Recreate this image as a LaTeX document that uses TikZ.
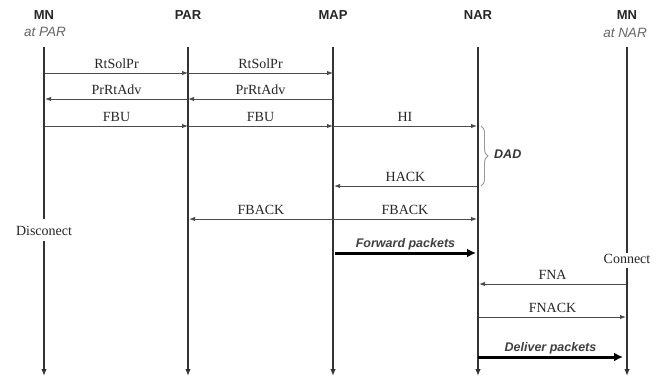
\documentclass[tikz,border=0pt]{standalone}
\usepackage{fontspec}
\setmainfont{Liberation Serif}
\setsansfont{Liberation Sans}
\usetikzlibrary{arrows.meta,decorations.pathreplacing}
\begin{document}
\begin{tikzpicture}[x=1pt,y=-1pt,
  head/.style={font=\sffamily\bfseries\fontsize{13}{14}\selectfont, text=black!85, inner sep=0pt},
  sub/.style={font=\sffamily\itshape\fontsize{13.5}{14}\selectfont, text=black!60, inner sep=0pt},
  life/.style={draw=black!80, line width=2pt},
  lifeend/.style={life, -{Latex[length=7pt,width=5.5pt]}},
  msg/.style={draw=black!70, line width=1pt, -{Latex[length=6pt,width=4.5pt]}},
  bulk/.style={draw=black, line width=3pt, -{Latex[length=9pt,width=9pt]}},
  lbl/.style={font=\fontsize{14}{15}\selectfont, text=black!85, anchor=base, yshift=5pt, inner sep=0pt},
  blbl/.style={font=\sffamily\bfseries\itshape\fontsize{12.5}{13}\selectfont, text=black!75, anchor=base, yshift=6pt, inner sep=0pt},
  state/.style={font=\fontsize{14}{15}\selectfont, text=black!85, inner sep=0pt}
]
\useasboundingbox[fill=white] (0,0) rectangle (661,376);

% headers
\node[head] (hmn) at (44,15) {MN};
\node[sub] (hmnat) at (45,32) {at PAR};
\node[head] (hpar) at (188,15) {PAR};
\node[head] (hmap) at (333,15) {MAP};
\node[head] (hnar) at (478,15) {NAR};
\node[head] (hmn2) at (627,15) {MN};
\node[sub] (hmn2at) at (625,33) {at NAR};

% lifeline ends
\coordinate (mnT) at (44,47);   \coordinate (mnB) at (44,376);
\coordinate (parT) at (188,47); \coordinate (parB) at (188,376);
\coordinate (mapT) at (333,47); \coordinate (mapB) at (333,376);
\coordinate (narT) at (478,47); \coordinate (narB) at (478,376);
\coordinate (mnnT) at (627,47); \coordinate (mnnB) at (627,376);

% state labels
\node[state] (disc) at (44,231) {Disconect};
\node[state] (conn) at (627,259) {Connect};
\coordinate (disc1) at (44,219); \coordinate (disc2) at (44,241);
\coordinate (conn1) at (627,253); \coordinate (conn2) at (627,268);

% lifelines
\draw[life] (mnT) -- (disc1);
\draw[lifeend] (disc2) -- (mnB);
\draw[lifeend] (parT) -- (parB);
\draw[lifeend] (mapT) -- (mapB);
\draw[lifeend] (narT) -- (narB);
\draw[life] (mnnT) -- (conn1);
\draw[lifeend] (conn2) -- (mnnB);

% message anchor points
\coordinate (a1) at (45,73);  \coordinate (a2) at (188,73); \coordinate (a3) at (333,73);
\coordinate (b1) at (45,99);  \coordinate (b2) at (188,99); \coordinate (b3) at (333,99);
\coordinate (c1) at (45,126); \coordinate (c2) at (188,126); \coordinate (c3) at (333,126); \coordinate (c4) at (477,126);
\coordinate (d3) at (334,186); \coordinate (d4) at (477,186);
\coordinate (e2) at (189,219); \coordinate (e3) at (333,219); \coordinate (e4) at (477,219);
\coordinate (f3) at (335,253); \coordinate (f4) at (476,253);
\coordinate (g4) at (479,284); \coordinate (g5) at (626,284);
\coordinate (h4) at (479,317); \coordinate (h5) at (626,317);
\coordinate (i4) at (478,357); \coordinate (i5) at (623,357);

% messages
\draw[msg] (a1) -- node[lbl] (m1) {RtSolPr} (a2);
\draw[msg] (a2) -- node[lbl] (m2) {RtSolPr} (a3);
\draw[msg] (b3) -- node[lbl] (m3) {PrRtAdv} (b2);
\draw[msg] (b2) -- node[lbl] (m4) {PrRtAdv} (b1);
\draw[msg] (c1) -- node[lbl] (m5) {FBU} (c2);
\draw[msg] (c2) -- node[lbl] (m6) {FBU} (c3);
\draw[msg] (c3) -- node[lbl] (m7) {HI} (c4);
\draw[msg] (d4) -- node[lbl] (m8) {HACK} (d3);
\draw[msg] (e3) -- node[lbl] (m9) {FBACK} (e2);
\draw[msg] (e3) -- node[lbl] (m10) {FBACK} (e4);
\draw[bulk] (f3) -- node[blbl] (m11) {Forward packets} (f4);
\draw[msg] (g5) -- node[lbl] (m12) {FNA} (g4);
\draw[msg] (h4) -- node[lbl] (m13) {FNACK} (h5);
\draw[bulk] (i4) -- node[blbl] (m14) {Deliver packets} (i5);

% DAD brace
\coordinate (brT) at (481,126); \coordinate (brB) at (481,186);
\draw[black!40, line width=0.9pt, decorate, decoration={brace, amplitude=7pt}] (brT) -- (brB);
\node[font=\sffamily\bfseries\itshape\fontsize{12.5}{13}\selectfont, text=black!80, anchor=west, inner sep=0pt] (dad) at (494,154) {DAD};
\end{tikzpicture}
\end{document}
